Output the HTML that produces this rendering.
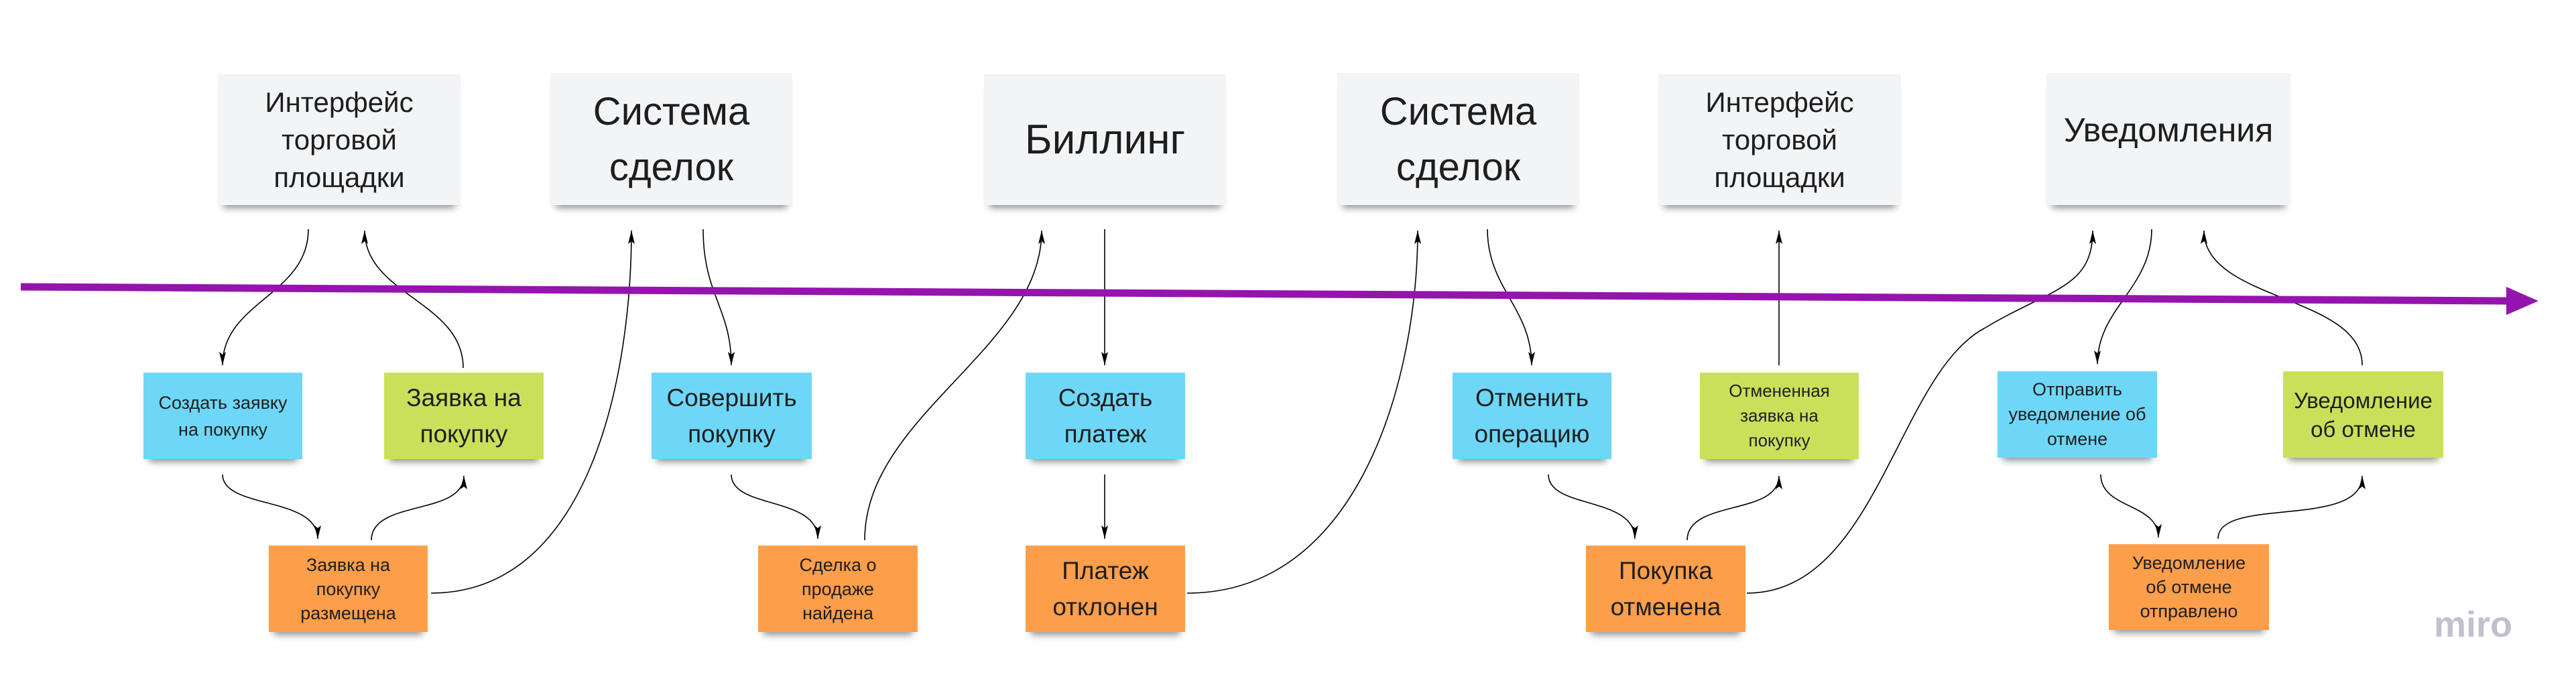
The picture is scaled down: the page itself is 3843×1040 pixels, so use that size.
<!DOCTYPE html>
<html><head><meta charset="utf-8"><style>
body{margin:0;width:3843px;height:1040px;background:#fff;position:relative;overflow:hidden;font-family:"Liberation Sans","DejaVu Sans",sans-serif;}
.c{position:absolute;display:flex;align-items:center;justify-content:center;text-align:center;color:#1e1e1e;box-shadow:0 12px 10px -8px rgba(0,0,0,0.45);box-sizing:border-box;padding:0 8px;}
.h{background:#f3f4f6;}
.b{background:#6ed7f8;}
.g{background:#cbe05a;}
.o{background:#fd9e4b;}
svg{position:absolute;left:0;top:0;}
</style></head><body>
<svg width="3843" height="1040" viewBox="0 0 3843 1040">
<defs><marker id="a" markerWidth="20" markerHeight="10" refX="20" refY="5" orient="auto" markerUnits="userSpaceOnUse" viewBox="0 0 20 10"><path d="M0,0 L20,5 L0,10 L4,5 Z" fill="#000"/></marker></defs>
<g fill="none" stroke="#000" stroke-width="1.6">
<path d="M460,342 C460,440 332,450 332,545" marker-end="url(#a)"/>
<path d="M691,549 C691,450 544,440 544,344" marker-end="url(#a)"/>
<path d="M643,885 C880,885 942,560 942,344" marker-end="url(#a)"/>
<path d="M1049,342 C1049,440 1091,460 1091,545" marker-end="url(#a)"/>
<path d="M332,708 C332,760 474,740 474,804" marker-end="url(#a)"/>
<path d="M554,806 C554,745 692,770 692,710" marker-end="url(#a)"/>
<path d="M1091,708 C1091,760 1220,740 1220,804" marker-end="url(#a)"/>
<path d="M1290,806 C1290,620 1554,520 1554,344" marker-end="url(#a)"/>
<path d="M1648,342 L1648,545" marker-end="url(#a)"/>
<path d="M1648,708 L1648,804" marker-end="url(#a)"/>
<path d="M1771,885 C2030,885 2115,560 2115,344" marker-end="url(#a)"/>
<path d="M2219,342 C2219,430 2285,460 2285,545" marker-end="url(#a)"/>
<path d="M2310,708 C2310,760 2439,740 2439,804" marker-end="url(#a)"/>
<path d="M2517,806 C2517,745 2654,770 2654,710" marker-end="url(#a)"/>
<path d="M2654,545 L2654,344" marker-end="url(#a)"/>
<path d="M2606,885 C2800,885 2830,560 2960,490 C3060,430 3122,430 3122,344" marker-end="url(#a)"/>
<path d="M3210,342 C3210,430 3129,460 3129,543" marker-end="url(#a)"/>
<path d="M3524,545 C3524,440 3288,450 3288,344" marker-end="url(#a)"/>
<path d="M3134,708 C3134,760 3220,750 3220,802" marker-end="url(#a)"/>
<path d="M3309,804 C3309,740 3524,790 3524,710" marker-end="url(#a)"/>
</g>
<line x1="31" y1="428" x2="3745" y2="449" stroke="#9514ad" stroke-width="11"/>
<polygon points="3739,428 3787,449 3739,470" fill="#9514ad"/>
<text x="3631" y="950" font-size="54" font-weight="bold" fill="#c3c0ce" font-family="Liberation Sans, sans-serif">miro</text>
</svg>

<div class="c h" style="left:325px;top:111px;width:362px;height:195px;font-size:42px;line-height:56px;">Интерфейс<br>торговой<br>площадки</div>
<div class="c h" style="left:821px;top:109px;width:361px;height:197px;font-size:58px;line-height:83px;">Система<br>сделок</div>
<div class="c h" style="left:1468px;top:111px;width:361px;height:195px;font-size:62px;">Биллинг</div>
<div class="c h" style="left:1995px;top:109px;width:361px;height:197px;font-size:58px;line-height:83px;">Система<br>сделок</div>
<div class="c h" style="left:2474px;top:111px;width:362px;height:195px;font-size:42px;line-height:56px;">Интерфейс<br>торговой<br>площадки</div>
<div class="c h" style="left:3053px;top:109px;width:364px;height:197px;font-size:50px;padding-bottom:28px;">Уведомления</div>

<div class="c b" style="left:214px;top:556px;width:237px;height:129px;font-size:27px;line-height:40px;">Создать заявку<br>на покупку</div>
<div class="c g" style="left:573px;top:556px;width:238px;height:129px;font-size:37px;line-height:54px;">Заявка на<br>покупку</div>
<div class="c b" style="left:972px;top:556px;width:239px;height:129px;font-size:37px;line-height:54px;">Совершить<br>покупку</div>
<div class="c b" style="left:1530px;top:556px;width:238px;height:129px;font-size:37px;line-height:54px;">Создать<br>платеж</div>
<div class="c b" style="left:2167px;top:556px;width:237px;height:129px;font-size:37px;line-height:54px;">Отменить<br>операцию</div>
<div class="c g" style="left:2536px;top:556px;width:237px;height:129px;font-size:26px;line-height:37px;">Отмененная<br>заявка на<br>покупку</div>
<div class="c b" style="left:2980px;top:554px;width:238px;height:129px;font-size:27px;line-height:37px;">Отправить<br>уведомление об<br>отмене</div>
<div class="c g" style="left:3406px;top:554px;width:239px;height:129px;font-size:33px;line-height:43px;">Уведомление<br>об отмене</div>

<div class="c o" style="left:401px;top:814px;width:237px;height:129px;font-size:27px;line-height:36px;">Заявка на<br>покупку<br>размещена</div>
<div class="c o" style="left:1131px;top:814px;width:238px;height:129px;font-size:27px;line-height:36px;">Сделка о<br>продаже<br>найдена</div>
<div class="c o" style="left:1530px;top:814px;width:238px;height:129px;font-size:37px;line-height:54px;">Платеж<br>отклонен</div>
<div class="c o" style="left:2366px;top:814px;width:238px;height:129px;font-size:37px;line-height:54px;">Покупка<br>отменена</div>
<div class="c o" style="left:3146px;top:812px;width:239px;height:128px;font-size:27px;line-height:36px;">Уведомление<br>об отмене<br>отправлено</div>
</body></html>
